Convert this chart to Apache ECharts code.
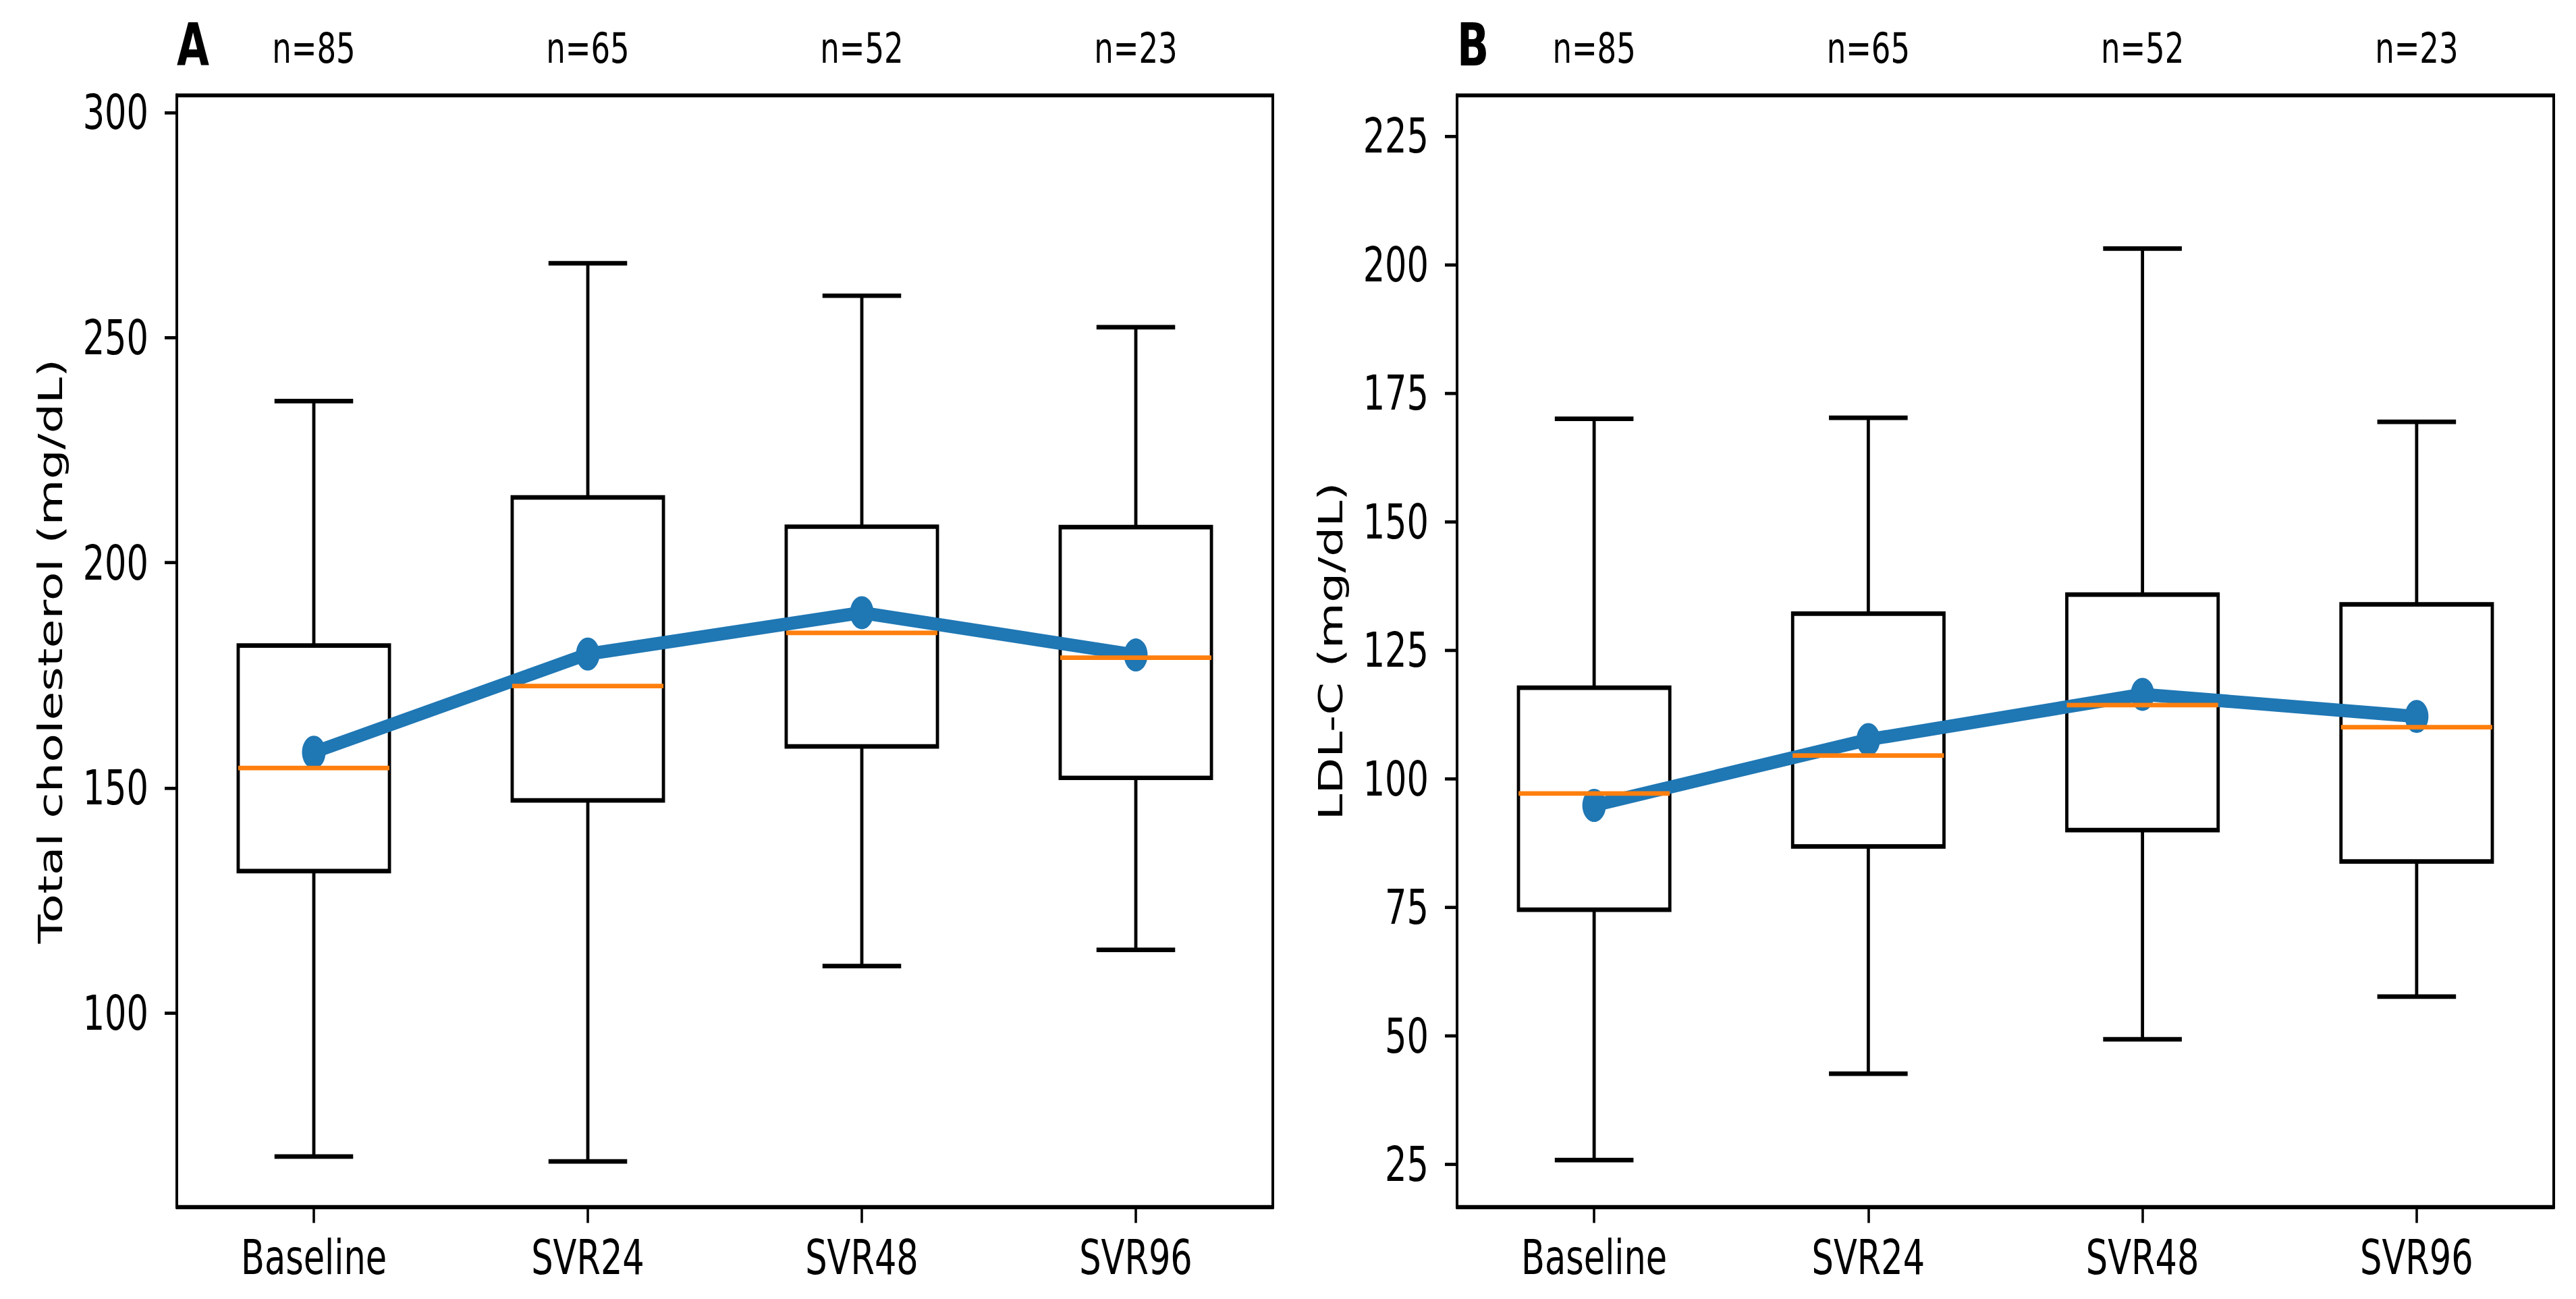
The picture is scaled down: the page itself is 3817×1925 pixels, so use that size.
<!DOCTYPE html>
<html>
<head>
<meta charset="utf-8">
<title>Cholesterol after SVR</title>
<script src="https://cdn.jsdelivr.net/npm/echarts@6/dist/echarts.min.js"></script>
<style>
  html, body { margin: 0; padding: 0; background: #fff; }
  #wrap { width: 3817px; height: 1925px; overflow: hidden; position: relative; }
  /* the source figure is stretched vertically by about 1.4, so draw at 1925/1.4 and scale */
  #chart { position: absolute; left: 0; top: 0; width: 3817px; height: 1375px; transform: scaleY(1.4); transform-origin: 0 0; }
</style>
</head>
<body>
<div id="wrap"><div id="chart"></div></div>
<script>
var categories = ['Baseline', 'SVR24', 'SVR48', 'SVR96'];
var nLabels = ['n=85', 'n=65', 'n=52', 'n=23'];

// A: total cholesterol (mg/dL)
var tcLow = [68.1, 67.0, 110.4, 114.0];
var tcQ1 = [131.5, 147.2, 159.2, 152.2];
var tcMedian = [154.4, 172.6, 184.4, 178.9];
var tcQ3 = [181.6, 214.5, 208.0, 207.9];
var tcHigh = [235.9, 266.5, 259.3, 252.3];
var tcMean = [157.9, 179.7, 188.9, 179.5];
var tcTicks = [100, 150, 200, 250, 300];

// B: LDL-C (mg/dL)
var ldlLow = [25.8, 42.6, 49.3, 57.6];
var ldlQ1 = [74.5, 86.8, 90.0, 83.9];
var ldlMedian = [97.1, 104.5, 114.3, 110.0];
var ldlQ3 = [117.7, 132.1, 135.8, 133.9];
var ldlHigh = [170.0, 170.2, 203.1, 169.4];
var ldlMean = [94.8, 107.6, 116.4, 112.1];
var ldlTicks = [25, 50, 75, 100, 125, 150, 175, 200, 225];

var FONT = 'DejaVu Sans';
var BLUE = '#1f77b4';
var ORANGE = '#ff7f0e';
var BOX_FRAC = 0.552;
var CAP_FRAC = 0.287;
var LW = 4.8;

function boxRows(low, q1, med, q3, high) {
    return categories.map(function (c, i) {
        return [i, low[i], q1[i], med[i], q3[i], high[i]];
    });
}

function renderBox(params, api) {
    var i = api.value(0);
    var band = api.size([1, 0])[0];
    var bw = band * BOX_FRAC / 2;
    var cw = band * CAP_FRAC / 2;
    var pLow = api.coord([i, api.value(1)]);
    var pQ1 = api.coord([i, api.value(2)]);
    var pQ3 = api.coord([i, api.value(4)]);
    var pHigh = api.coord([i, api.value(5)]);
    var x = pQ1[0];
    var st = { stroke: '#000', lineWidth: LW, fill: null };
    return {
        type: 'group',
        children: [
            { type: 'line', shape: { x1: x, y1: pQ1[1], x2: x, y2: pLow[1] }, style: st },
            { type: 'line', shape: { x1: x, y1: pQ3[1], x2: x, y2: pHigh[1] }, style: st },
            { type: 'line', shape: { x1: x - cw, y1: pLow[1], x2: x + cw, y2: pLow[1] }, style: st },
            { type: 'line', shape: { x1: x - cw, y1: pHigh[1], x2: x + cw, y2: pHigh[1] }, style: st },
            { type: 'rect', shape: { x: x - bw, y: pQ3[1], width: bw * 2, height: pQ1[1] - pQ3[1] }, style: st }
        ]
    };
}

function renderMedian(params, api) {
    var i = api.value(0);
    var band = api.size([1, 0])[0];
    var bw = band * BOX_FRAC / 2;
    var p = api.coord([i, api.value(3)]);
    return {
        type: 'line',
        shape: { x1: p[0] - bw, y1: p[1], x2: p[0] + bw, y2: p[1] },
        style: { stroke: ORANGE, lineWidth: LW }
    };
}

function bottomAxis(gridIndex) {
    return {
        type: 'category', gridIndex: gridIndex, data: categories,
        axisLine: { show: true, lineStyle: { color: '#000', width: 4 } },
        axisTick: { show: true, alignWithLabel: true, length: 17, lineStyle: { color: '#000', width: 3.6 } },
        axisLabel: { interval: 0, margin: 28, color: '#000', fontSize: 51, fontFamily: FONT },
        splitLine: { show: false }
    };
}

function topAxis(gridIndex) {
    return {
        type: 'category', gridIndex: gridIndex, data: nLabels, position: 'top',
        axisLine: { show: false }, axisTick: { show: false },
        axisLabel: { interval: 0, margin: 28, color: '#000', fontSize: 45, fontFamily: FONT },
        splitLine: { show: false }
    };
}

function valueAxis(gridIndex, name, min, max, ticks) {
    return {
        type: 'value', gridIndex: gridIndex, min: min, max: max,
        name: name, nameLocation: 'middle', nameGap: 162,
        nameTextStyle: { color: '#000', fontSize: 50, fontFamily: FONT },
        axisLine: { show: true, lineStyle: { color: '#000', width: 4 } },
        axisTick: { show: true, length: 18, customValues: ticks, lineStyle: { color: '#000', width: 3.4 } },
        axisLabel: { margin: 42, color: '#000', fontSize: 51, fontFamily: FONT, customValues: ticks },
        splitLine: { show: false }
    };
}

function panelSeries(axisIndex, low, q1, med, q3, high, mean) {
    var rows = boxRows(low, q1, med, q3, high);
    return [
        {
            type: 'custom', xAxisIndex: axisIndex, yAxisIndex: axisIndex, z: 2,
            renderItem: renderBox, data: rows, encode: { x: 0, y: [1, 2, 3, 4, 5] }
        },
        {
            type: 'line', xAxisIndex: axisIndex, yAxisIndex: axisIndex, z: 3,
            data: mean, symbol: 'circle', symbolSize: 35,
            lineStyle: { color: BLUE, width: 14 }, itemStyle: { color: BLUE }
        },
        {
            type: 'custom', xAxisIndex: axisIndex, yAxisIndex: axisIndex, z: 4,
            renderItem: renderMedian, data: rows, encode: { x: 0, y: 3 }
        }
    ];
}

var chart = echarts.init(document.getElementById('chart'), null, { renderer: 'svg' });

var option = {
    animation: false,
    backgroundColor: '#fff',
    title: [
        { text: 'A', left: 262, top: 17, padding: 0, textStyle: { fontSize: 62, fontWeight: 'bold', color: '#000', fontFamily: FONT } },
        { text: 'B', left: 2159, top: 17, padding: 0, textStyle: { fontSize: 62, fontWeight: 'bold', color: '#000', fontFamily: FONT } }
    ],
    grid: [
        { left: 262, top: 101, width: 1624, height: 1176.5, show: true, borderColor: '#000', borderWidth: 4 },
        { left: 2159, top: 101, width: 1625, height: 1176.5, show: true, borderColor: '#000', borderWidth: 4 }
    ],
    xAxis: [bottomAxis(0), bottomAxis(1), topAxis(0), topAxis(1)],
    yAxis: [
        valueAxis(0, 'Total cholesterol (mg/dL)', 56.9, 303.8, tcTicks),
        valueAxis(1, 'LDL-C (mg/dL)', 16.7, 232.9, ldlTicks)
    ],
    series: panelSeries(0, tcLow, tcQ1, tcMedian, tcQ3, tcHigh, tcMean)
        .concat(panelSeries(1, ldlLow, ldlQ1, ldlMedian, ldlQ3, ldlHigh, ldlMean))
};

chart.setOption(option);
</script>
</body>
</html>
